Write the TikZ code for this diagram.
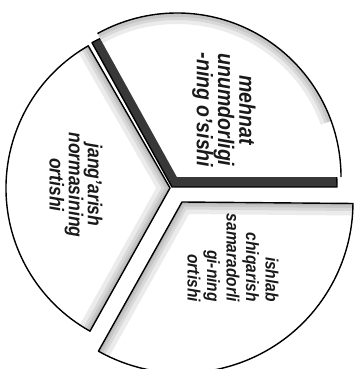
\documentclass[tikz,border=0pt]{standalone}
\usepackage{fontspec}
\setmainfont{Liberation Sans}
\begin{document}
\begin{tikzpicture}[x=1pt,y=1pt,
  outline/.style={draw=black, line width=1.4pt, line join=round},
  lbl/.style={rotate=-90, yscale=1.15, inner sep=0pt, text=black!90},
  softshade/.style={line width=#1, draw=black, draw opacity=0.08}]
\useasboundingbox (0,0) rectangle (358,369);
\clip (0,0) rectangle (358,369);
% ---------- sector 3 (left) ----------
\coordinate (c3) at (170,181);
\fill[white] (c3) -- ++(119.9:164) arc[start angle=119.9, end angle=240.8, radius=164] -- cycle;
\begin{scope}
  \clip (c3) -- ++(119.9:164) arc[start angle=119.9, end angle=240.8, radius=164] -- cycle;
  \foreach \w in {24,15,9,4} \draw[softshade=\w pt] (c3) ++(119.9:164) -- (c3) -- ++(240.8:164);
\end{scope}
\draw[outline] (c3) -- ++(119.9:164) arc[start angle=119.9, end angle=240.8, radius=164] -- cycle;
% ---------- sector 2 (bottom right) ----------
\coordinate (c2) at (182,167);
\fill[white] (c2) -- ++(-119.25:171) arc[start angle=-119.25, end angle=-0.5, radius=171] -- cycle;
\begin{scope}
  \clip (c2) -- ++(-119.25:171) arc[start angle=-119.25, end angle=-0.5, radius=171] -- cycle;
  \foreach \w in {24,15,9,4} \draw[softshade=\w pt] (c2) ++(-119.25:171) -- (c2) -- ++(-0.5:171);
\end{scope}
\draw[outline] (c2) -- ++(-119.25:171) arc[start angle=-119.25, end angle=-0.5, radius=171] -- cycle;
% ---------- sector 1 (top right, raised) ----------
\coordinate (b1) at (172,182);
\coordinate (f1) at (177,192);
\filldraw[fill=black!78, outline] (b1) -- ++(0:165) arc[start angle=0, end angle=119, radius=165] -- cycle;
\fill[white] (f1) -- ++(0:164) arc[start angle=0, end angle=119, radius=164] -- cycle;
\begin{scope}
  \clip (f1) -- ++(0:164) arc[start angle=0, end angle=119, radius=164] -- cycle;
  \foreach \w in {22,14,8} \draw[softshade=\w pt] (f1) ++(20:164) arc[start angle=20, end angle=119, radius=164];
\end{scope}
\draw[outline] (f1) ++(0:164) arc[start angle=0, end angle=119, radius=164];
% ---------- labels ----------
\node[lbl, align=center, font=\fontsize{19.5}{18.5}\selectfont\bfseries\itshape] (t1) at (224,259)
  {mehnat\\unumdorligi\\-ning o'sishi};
\node[lbl, anchor=east, align=right, font=\fontsize{15.5}{17}\selectfont\bfseries\itshape] (t2) at (233,67)
  {ishlab\\chiqarish\\samaradorli\\gi-ning\\ortishi};
\node[lbl, align=center, font=\fontsize{17.5}{16.6}\selectfont\bfseries\itshape] (t3) at (76,184)
  {jang'arish\\normasining\\ortishi};
\end{tikzpicture}
\end{document}
